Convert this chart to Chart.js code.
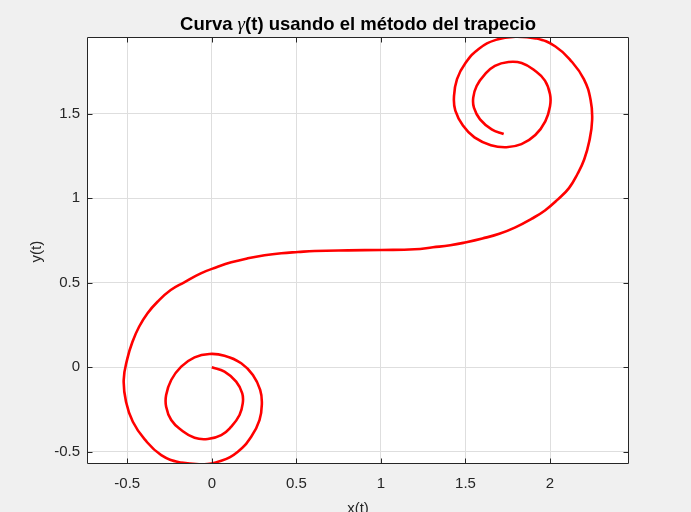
<!DOCTYPE html>
<html>
<head>
<meta charset="utf-8">
<script src="https://cdn.jsdelivr.net/npm/chart.js@4.4.1/dist/chart.umd.min.js"></script>
<style>
  html, body { margin: 0; padding: 0; background: #f0f0f0; }
  #wrap { width: 691px; height: 512px; }
</style>
</head>
<body>
<div id="wrap"><canvas id="c" width="691" height="512"></canvas></div>
<script>
const titleBefore = "Curva ";
const titleSymbol = "γ";
const titleAfter = "(t) usando el método del trapecio";
const xLabel = "x(t)";
const yLabel = "y(t)";
const xTicks = [-0.5, 0, 0.5, 1, 1.5, 2];
const yTicks = [-0.5, 0, 0.5, 1, 1.5];
const xRange = [-0.738, 2.467];
const yRange = [-0.572, 1.954];

const xValues = [
  0.000, 0.075, 0.144, 0.180, 0.183, 0.164, 0.115, 0.056, -0.024, -0.102,
  -0.181, -0.240, -0.270, -0.270, -0.240, -0.181, -0.102, -0.014, 0.075, 0.174,
  0.243, 0.286, 0.296, 0.282, 0.233, 0.154, 0.056, -0.063, -0.181, -0.299,
  -0.398, -0.467, -0.507, -0.521, -0.499, -0.469, -0.430, -0.380, -0.321, -0.243,
  -0.163, -0.065, 0.028, 0.115, 0.213, 0.312, 0.411, 0.509, 0.608, 0.805,
  1.002, 1.199, 1.308, 1.410, 1.505, 1.600, 1.700, 1.795, 1.890, 1.970,
  2.045, 2.112, 2.163, 2.202, 2.232, 2.249, 2.240, 2.200, 2.130, 2.032,
  1.915, 1.795, 1.680, 1.580, 1.500, 1.450, 1.432, 1.440, 1.485, 1.553,
  1.650, 1.742, 1.831, 1.913, 1.972, 2.000, 2.000, 1.970, 1.911, 1.832,
  1.754, 1.674, 1.615, 1.566, 1.546, 1.550, 1.586, 1.655, 1.726
];
const yValues = [
  0.000, -0.026, -0.085, -0.154, -0.213, -0.282, -0.351, -0.401, -0.424, -0.417,
  -0.371, -0.312, -0.233, -0.164, -0.075, 0.004, 0.059, 0.079, 0.069, 0.024,
  -0.046, -0.134, -0.213, -0.312, -0.411, -0.499, -0.553, -0.574, -0.564, -0.519,
  -0.425, -0.322, -0.205, -0.075, 0.053, 0.151, 0.240, 0.320, 0.388, 0.457,
  0.503, 0.556, 0.592, 0.621, 0.645, 0.663, 0.675, 0.682, 0.688, 0.692,
  0.694, 0.698, 0.710, 0.722, 0.740, 0.762, 0.790, 0.828, 0.878, 0.928,
  0.992, 1.060, 1.145, 1.229, 1.337, 1.463, 1.582, 1.705, 1.806, 1.898,
  1.946, 1.956, 1.937, 1.885, 1.800, 1.705, 1.600, 1.518, 1.430, 1.360,
  1.314, 1.302, 1.320, 1.374, 1.455, 1.545, 1.615, 1.696, 1.754, 1.800,
  1.806, 1.783, 1.733, 1.664, 1.595, 1.536, 1.467, 1.408, 1.380
];

const points = xValues.map((x, i) => ({ x: x, y: yValues[i] }));
const FONT = "'Liberation Sans', Arial, Helvetica, sans-serif";
const AXIS_COLOR = '#262626';

const framePlugin = {
  id: 'matlabFrame',
  beforeDraw(chart) {
    const { ctx, chartArea: a } = chart;
    ctx.save();
    ctx.fillStyle = '#f0f0f0';
    ctx.fillRect(0, 0, chart.width, chart.height);
    ctx.fillStyle = '#ffffff';
    ctx.fillRect(a.left, a.top, a.right - a.left, a.bottom - a.top);
    ctx.restore();
  },
  afterDraw(chart) {
    const { ctx, chartArea: a, scales } = chart;
    const L = Math.round(a.left) + 0.5, R = Math.round(a.right) - 0.5;
    const T = Math.round(a.top) + 0.5, B = Math.round(a.bottom) - 0.5;
    ctx.save();
    ctx.strokeStyle = AXIS_COLOR;
    ctx.lineWidth = 1;
    ctx.beginPath();
    ctx.rect(L, T, R - L, B - T);
    const tl = 5;
    xTicks.forEach(v => {
      const px = Math.round(scales.x.getPixelForValue(v)) + 0.5;
      ctx.moveTo(px, B); ctx.lineTo(px, B - tl);
      ctx.moveTo(px, T); ctx.lineTo(px, T + tl);
    });
    yTicks.forEach(v => {
      const py = Math.round(scales.y.getPixelForValue(v)) + 0.5;
      ctx.moveTo(L, py); ctx.lineTo(L + tl, py);
      ctx.moveTo(R, py); ctx.lineTo(R - tl, py);
    });
    ctx.stroke();

    // Title (mixed fonts, like MATLAB's TeX gamma)
    const parts = [
      { t: titleBefore, f: 'bold 18.5px ' + FONT },
      { t: titleSymbol, f: 'italic 19px "Liberation Serif", "DejaVu Serif", serif' },
      { t: titleAfter, f: 'bold 18.5px ' + FONT }
    ];
    let total = 0;
    parts.forEach(p => { ctx.font = p.f; p.w = ctx.measureText(p.t).width; total += p.w; });
    let tx = (a.left + a.right) / 2 - total / 2;
    ctx.fillStyle = '#000000';
    ctx.textAlign = 'left';
    ctx.textBaseline = 'alphabetic';
    parts.forEach(p => { ctx.font = p.f; ctx.fillText(p.t, tx, 29.5); tx += p.w; });

    ctx.fillStyle = AXIS_COLOR;
    ctx.font = '15px ' + FONT;
    ctx.textAlign = 'center';
    ctx.fillText(xLabel, (a.left + a.right) / 2, 512.5);
    ctx.translate(40.5, 251.7);
    ctx.rotate(-Math.PI / 2);
    ctx.fillText(yLabel, 0, 0);
    ctx.restore();
  }
};

new Chart(document.getElementById('c'), {
  type: 'line',
  data: {
    datasets: [{
      data: points,
      borderColor: '#ff0000',
      backgroundColor: '#ff0000',
      borderWidth: 2.6,
      pointRadius: 0,
      tension: 0.45,
      cubicInterpolationMode: 'default',
      fill: false
    }]
  },
  options: {
    responsive: false,
    animation: false,
    devicePixelRatio: 1,
    parsing: true,
    layout: { padding: { left: 0, right: 62, top: 37, bottom: 0 } },
    plugins: {
      legend: { display: false },
      tooltip: { enabled: false },
      title: { display: false }
    },
    scales: {
      x: {
        type: 'linear',
        min: xRange[0],
        max: xRange[1],
        afterBuildTicks: s => { s.ticks = xTicks.map(v => ({ value: v })); },
        afterFit: s => { s.height = 48; },
        grid: { color: '#dedede', drawTicks: false, lineWidth: 1 },
        border: { display: false },
        ticks: {
          color: AXIS_COLOR,
          font: { family: FONT, size: 15 },
          padding: 11,
          maxRotation: 0,
          autoSkip: false,
          callback: v => String(v)
        }
      },
      y: {
        type: 'linear',
        min: yRange[0],
        max: yRange[1],
        afterBuildTicks: s => { s.ticks = yTicks.map(v => ({ value: v })); },
        afterFit: s => { s.width = 87; },
        grid: { color: '#dedede', drawTicks: false, lineWidth: 1 },
        border: { display: false },
        ticks: {
          color: AXIS_COLOR,
          font: { family: FONT, size: 15 },
          padding: 7,
          autoSkip: false,
          callback: v => String(v)
        }
      }
    }
  },
  plugins: [framePlugin]
});
</script>
</body>
</html>
